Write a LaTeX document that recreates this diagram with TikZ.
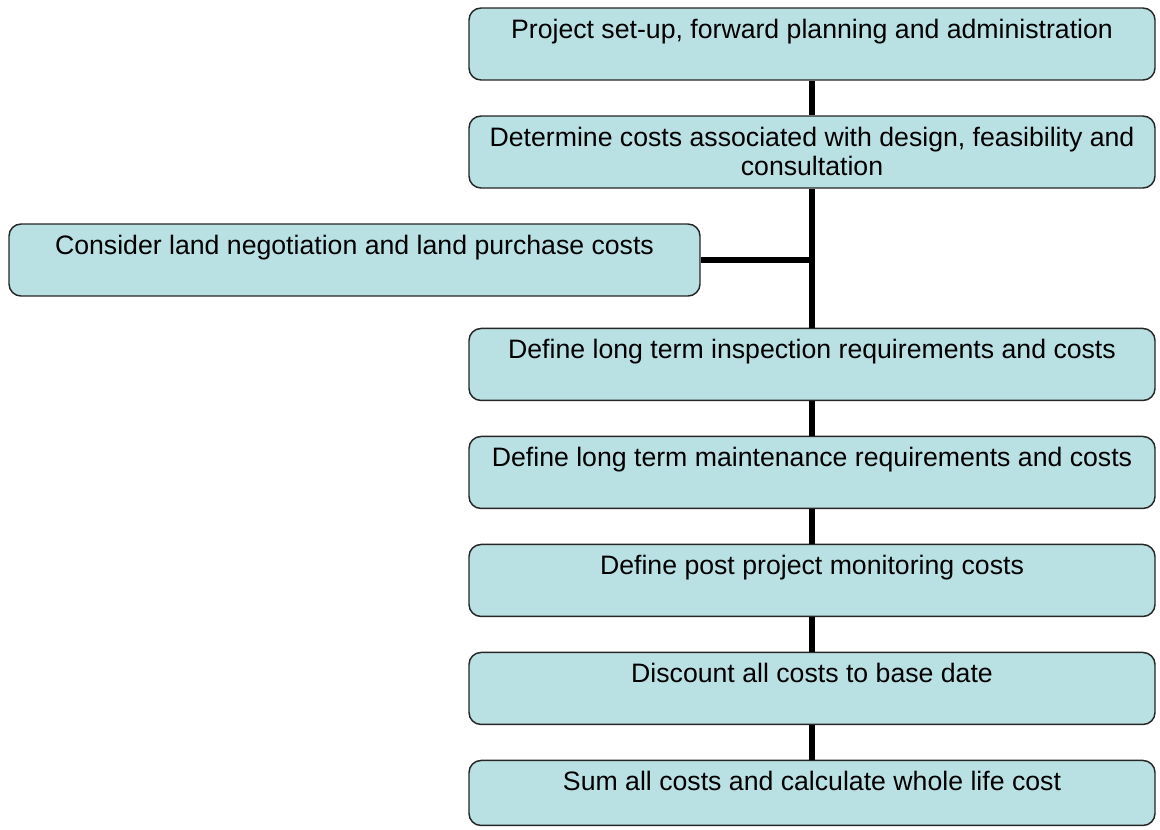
\documentclass[tikz,border=0pt]{standalone}
\usepackage{fontspec}
\setmainfont{Liberation Sans}
\usepackage{xcolor}
\usetikzlibrary{positioning}

\definecolor{boxblue}{RGB}{185,224,227}

\begin{document}
\begin{tikzpicture}[x=0.75pt, y=-0.75pt, node distance=25.9pt]
    \tikzset{
        stage/.style={draw=black!85, fill=boxblue, rounded corners=9pt, line width=1.1pt,
            minimum width=514.5pt, inner xsep=6pt, inner ysep=0pt,
            text height=22.5pt, text depth=31.5pt, align=center,
            font=\fontsize{20}{22}\selectfont},
        twoline/.style={text height=44.5pt, text depth=9.5pt},
        spine/.style={line width=4.5pt}
    }
    \useasboundingbox (0,0) rectangle (1160,829);

    % Nodes
    \node[stage] (setup) at (812,44) {Project set-up, forward planning and administration};
    \node[stage, twoline, below=of setup] (design) {Determine costs associated with design, feasibility and\\consultation};
    \node[stage, minimum width=518.25pt] (land) at (354.5,260) {Consider land negotiation and land purchase costs};
    \node[stage, below=104.25pt of design] (inspect) {Define long term inspection requirements and costs};
    \node[stage, below=of inspect] (maint) {Define long term maintenance requirements and costs};
    \node[stage, below=of maint] (monitor) {Define post project monitoring costs};
    \node[stage, below=of monitor] (discount) {Discount all costs to base date};
    \node[stage, text depth=26.25pt, below=of discount] (sum) {Sum all costs and calculate whole life cost};

    % Connections
    \draw[spine] (setup) -- (design);
    \draw[spine] (design) -- (inspect);
    \draw[spine] (land.east) -- (land.east -| design.south);
    \draw[spine] (inspect) -- (maint);
    \draw[spine] (maint) -- (monitor);
    \draw[spine] (monitor) -- (discount);
    \draw[spine] (discount) -- (sum);
\end{tikzpicture}
\end{document}
